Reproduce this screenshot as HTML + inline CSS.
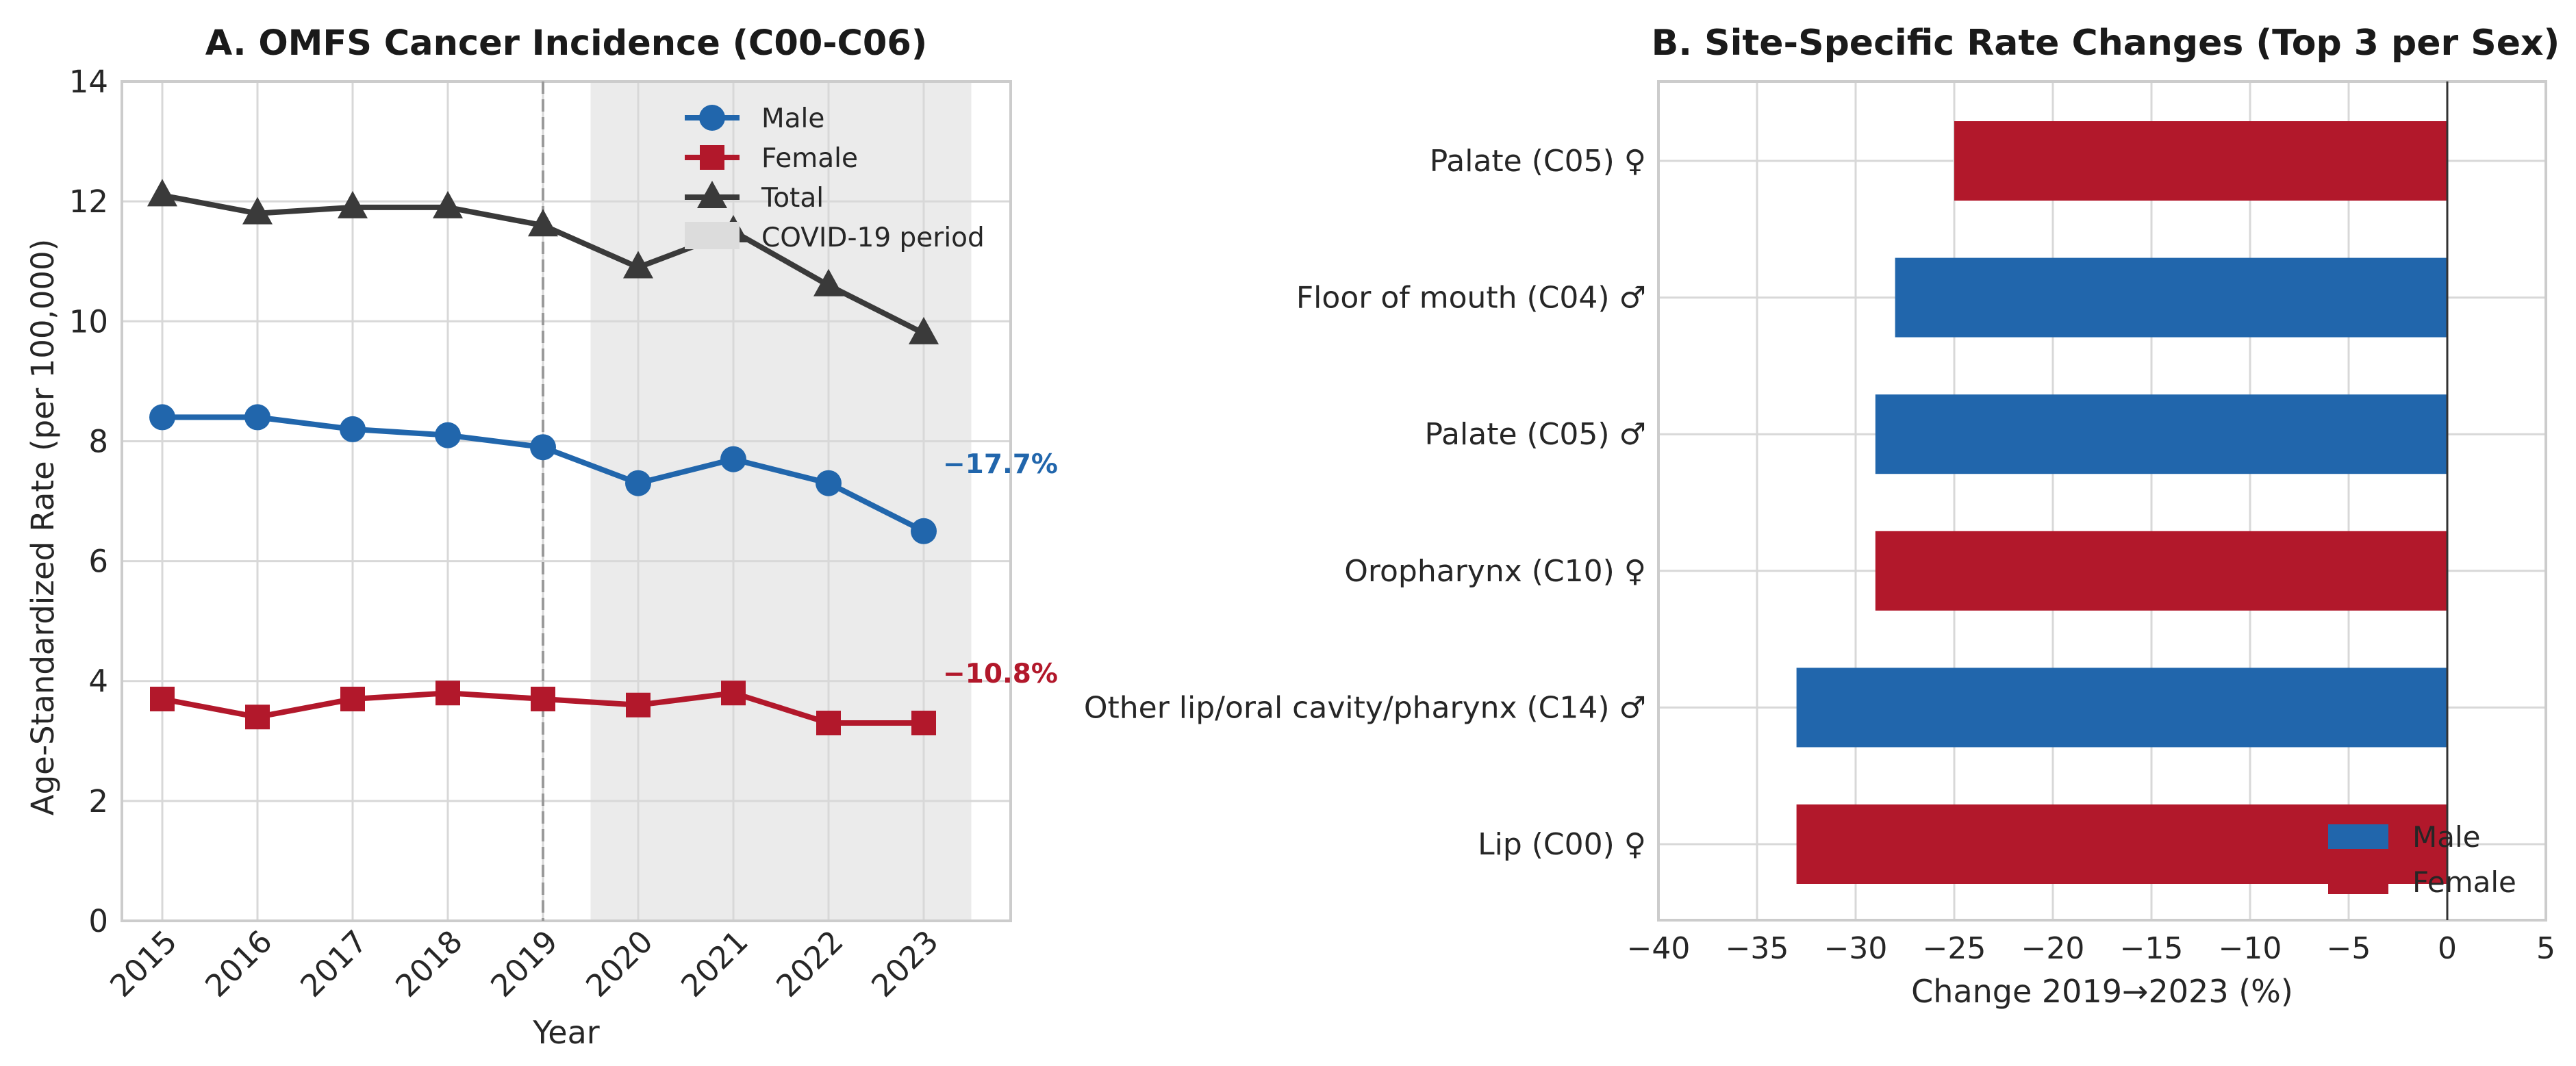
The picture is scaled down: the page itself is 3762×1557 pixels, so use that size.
<!DOCTYPE html>
<html><head><meta charset="utf-8"><style>
html,body{margin:0;padding:0;background:#fff;}
svg{display:block;font-family:"DejaVu Sans","Liberation Sans",sans-serif;}
</style></head><body>
<svg id="fig" width="3762" height="1557" viewBox="0 0 3762 1557" xmlns="http://www.w3.org/2000/svg">
<g id="left"></g>
<g id="right"></g>
</svg>
<script>
const years = [2015,2016,2017,2018,2019,2020,2021,2022,2023];
const maleRate = [8.4,8.4,8.2,8.1,7.9,7.3,7.7,7.3,6.5];
const femaleRate = [3.7,3.4,3.7,3.8,3.7,3.6,3.8,3.3,3.3];
const totalRate = [12.1,11.8,11.9,11.9,11.6,10.9,11.5,10.6,9.8];
const yTicksA = [0,2,4,6,8,10,12,14];
const maleChangeLabel = "\u221217.7%";
const femaleChangeLabel = "\u221210.8%";

const sites = ["Palate (C05) \u2640","Floor of mouth (C04) \u2642","Palate (C05) \u2642","Oropharynx (C10) \u2640","Other lip/oral cavity/pharynx (C14) \u2642","Lip (C00) \u2640"];
const siteSex = ["F","M","M","F","M","F"];
const siteChange = [-25,-28,-29,-29,-33,-33];
const xTicksB = [-40,-35,-30,-25,-20,-15,-10,-5,0,5];

const NS="http://www.w3.org/2000/svg";
const BLUE="#2166ac", RED="#b2182b", DARK="#3a3a3a", GRID="#d8d8d8", TXT="#262626";
function mk(parent,tag,attrs,text){const e=document.createElementNS(NS,tag);for(const k in attrs)e.setAttribute(k,attrs[k]);if(text!==undefined)e.textContent=text;parent.appendChild(e);return e;}

// ---------- Panel A ----------
const L=document.getElementById('left');
const ax={x0:178,x1:1476,y0:119,y1:1345};
const xA=v=>237+(v-2015)*139;
const yA=v=>1345-v*87.57;
let e=mk(L,'rect',{x:xA(2019.5),y:ax.y0,width:xA(2023.5)-xA(2019.5),height:ax.y1-ax.y0,fill:"#ebebeb"});

yTicksA.forEach(t=>{
  let g=mk(L,'line',{x1:ax.x0,x2:ax.x1,y1:yA(t),y2:yA(t),stroke:GRID,'stroke-width':3});
  
  let tx=mk(L,'text',{x:158,y:yA(t)+16,'text-anchor':'end','font-size':45,fill:TXT},String(t));
  
});
years.forEach(yr=>{
  let g=mk(L,'line',{x1:xA(yr),x2:xA(yr),y1:ax.y0,y2:ax.y1,stroke:GRID,'stroke-width':3});
  
  let tx=mk(L,'text',{x:xA(yr)+24,y:1378,'text-anchor':'end','font-size':45,fill:TXT,transform:`rotate(-45 ${xA(yr)+24} 1378)`},String(yr));
  
});
e=mk(L,'rect',{x:ax.x0,y:ax.y0,width:ax.x1-ax.x0,height:ax.y1-ax.y0,fill:'none',stroke:'#cccccc','stroke-width':4});

e=mk(L,'line',{x1:xA(2019),x2:xA(2019),y1:ax.y0,y2:ax.y1,stroke:'#9a9a9a','stroke-width':4,'stroke-dasharray':'18 8'});


function drawMarker(g,marker,x,y,c){
  if(marker==='o')return mk(g,'circle',{cx:x,cy:y,r:19,fill:c});
  if(marker==='s')return mk(g,'rect',{x:x-18,y:y-18,width:36,height:36,fill:c});
  return mk(g,'polygon',{points:`${x},${y-24} ${x-22},${y+16} ${x+22},${y+16}`,fill:c});
}
function series(vals,color,marker,name){
  const g=mk(L,'g',{});
  
  const p=mk(g,'polyline',{points:vals.map((v,i)=>xA(years[i])+','+yA(v)).join(' '),fill:'none',stroke:color,'stroke-width':8,'stroke-linejoin':'round'});
  
  vals.forEach((v,i)=>{
    const m=drawMarker(g,marker,xA(years[i]),yA(v),color);
    
  });
}
series(totalRate,DARK,'^','total');
series(maleRate,BLUE,'o','male');
series(femaleRate,RED,'s','female');

e=mk(L,'text',{x:1377,y:691,'font-size':39,'font-weight':'bold',fill:BLUE},maleChangeLabel);

e=mk(L,'text',{x:1377,y:997,'font-size':39,'font-weight':'bold',fill:RED},femaleChangeLabel);


const lg=mk(L,'g',{});

const legItems=[["Male",BLUE,'o'],["Female",RED,'s'],["Total",DARK,'^'],["COVID-19 period",null,'shade']];
legItems.forEach((it,i)=>{
  const y=172+i*58;
  const ge=mk(lg,'g',{});
  
  
  if(it[2]==='shade'){mk(ge,'rect',{x:1000,y:y-22,width:80,height:40,fill:'#dcdcdc'});}
  else{mk(ge,'line',{x1:1000,x2:1080,y1:y,y2:y,stroke:it[1],'stroke-width':8});drawMarker(ge,it[2],1040,y,it[1]);}
  mk(ge,'text',{x:1112,y:y+14,'font-size':39,fill:TXT},it[0]);
});
e=mk(L,'text',{x:827,y:80,'text-anchor':'middle','font-size':51,'font-weight':'bold',fill:'#1a1a1a'},"A. OMFS Cancer Incidence (C00-C06)");

e=mk(L,'text',{x:827,y:1524,'text-anchor':'middle','font-size':46,fill:TXT},"Year");

e=mk(L,'text',{x:78,y:770,'text-anchor':'middle','font-size':45,fill:TXT,transform:'rotate(-90 78 770)'},"Age-Standardized Rate (per 100,000)");


// ---------- Panel B ----------
const R=document.getElementById('right');
const bx={x0:2422,x1:3718,y0:119,y1:1344};
const xB=v=>3574+v*28.8;
const yB=i=>235+i*199.6;
xTicksB.forEach(t=>{
  let g=mk(R,'line',{x1:xB(t),x2:xB(t),y1:bx.y0,y2:bx.y1,stroke:GRID,'stroke-width':3});
  
  let tx=mk(R,'text',{x:xB(t),y:1400,'text-anchor':'middle','font-size':44,fill:TXT},t<0?'\u2212'+Math.abs(t):String(t));
  
});
sites.forEach((s,i)=>{
  let g=mk(R,'line',{x1:bx.x0,x2:bx.x1,y1:yB(i),y2:yB(i),stroke:GRID,'stroke-width':3});
  
  let tx=mk(R,'text',{x:2404,y:yB(i)+15,'text-anchor':'end','font-size':44,fill:TXT},s);
  
});
e=mk(R,'rect',{x:bx.x0,y:bx.y0,width:bx.x1-bx.x0,height:bx.y1-bx.y0,fill:'none',stroke:'#cccccc','stroke-width':4});

siteChange.forEach((v,i)=>{
  const x=Math.min(xB(v),xB(0)),w=Math.abs(xB(v)-xB(0));
  const b=mk(R,'rect',{x:x,y:yB(i)-58,width:w,height:116,fill:siteSex[i]==='M'?BLUE:RED});
  
});
e=mk(R,'line',{x1:xB(0),x2:xB(0),y1:bx.y0,y2:bx.y1,stroke:'#333','stroke-width':3});

const lb=mk(R,'g',{});

[["Male",BLUE,1222],["Female",RED,1288]].forEach(it=>{
  const ge=mk(lb,'g',{});
  
  mk(ge,'rect',{x:3400,y:it[2]-18,width:88,height:36,fill:it[1]});
  mk(ge,'text',{x:3523,y:it[2]+15,'font-size':42,fill:TXT},it[0]);
});
e=mk(R,'text',{x:3075,y:80,'text-anchor':'middle','font-size':52,'font-weight':'bold',fill:'#1a1a1a'},"B. Site-Specific Rate Changes (Top 3 per Sex)");

e=mk(R,'text',{x:3070,y:1464,'text-anchor':'middle','font-size':46,fill:TXT},"Change 2019\u21922023 (%)");

</script>
</body></html>
